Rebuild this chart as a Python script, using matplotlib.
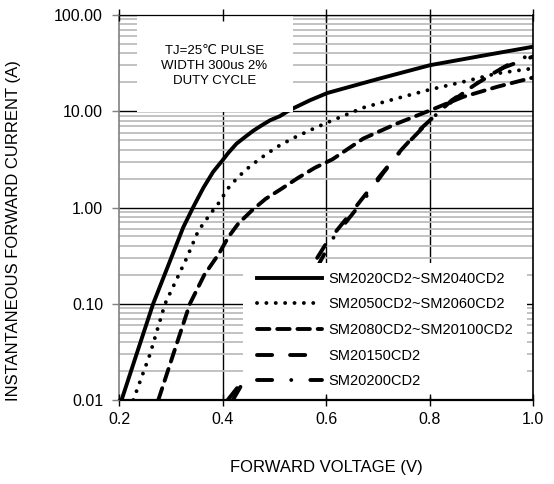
import matplotlib
matplotlib.use('Agg')
import matplotlib.pyplot as plt
from matplotlib.patches import Rectangle
from matplotlib.ticker import LogLocator, NullFormatter, FuncFormatter

plt.rcParams['font.family'] = ['Liberation Sans', 'DejaVu Sans']

# values (V, A)
labels = ['SM2020CD2~SM2040CD2', 'SM2050CD2~SM2060CD2', 'SM2080CD2~SM20100CD2',
          'SM20150CD2', 'SM20200CD2']

v_2040 = [0.205, 0.234, 0.266, 0.303, 0.324, 0.343, 0.363, 0.382, 0.40, 0.411, 0.427,
          0.4435, 0.46, 0.476, 0.492, 0.511, 0.53, 0.569, 0.603, 0.704, 0.801, 0.898, 1.00]
i_2040 = [0.01, 0.03, 0.1, 0.32, 0.62, 1.0, 1.6, 2.35, 3.09, 3.68, 4.6,
          5.4, 6.3, 7.15, 8.06, 8.9, 10.3, 13.0, 15.5, 21.9, 30.1, 37.4, 46.8]

v_2060 = [0.2276, 0.26, 0.289, 0.331, 0.353, 0.3745, 0.392, 0.4145, 0.4435, 0.4725,
          0.505, 0.537, 0.569, 0.604, 0.672, 0.737, 0.801, 0.865, 0.93, 1.00]
i_2060 = [0.01, 0.03, 0.1, 0.30, 0.57, 0.83, 1.1, 1.69, 2.43, 3.22,
          4.25, 5.27, 6.34, 7.7, 10.9, 13.6, 16.8, 20.2, 24.7, 27.9]

v_20100 = [0.276, 0.305, 0.337, 0.365, 0.393, 0.411, 0.4305, 0.4576, 0.4834, 0.5144,
           0.5465, 0.5787, 0.6122, 0.672, 0.737, 0.801, 0.865, 0.93, 1.00]
i_20100 = [0.01, 0.03, 0.1, 0.2, 0.33, 0.49, 0.68, 0.94, 1.23, 1.57,
           2.04, 2.59, 3.16, 5.2, 7.45, 10.2, 14.1, 17.9, 22.4]

v_20150 = [0.42, 0.45, 0.48, 0.52, 0.56, 0.60, 0.652, 0.705, 0.746, 0.782, 0.82,
           0.843, 0.894, 0.943, 1.00]
i_20150 = [0.01, 0.019, 0.035, 0.08, 0.19, 0.42, 0.93, 2.15, 4.0, 6.5, 10.0,
           13.0, 19.8, 28.4, 37.0]

v_20200 = [0.41, 0.44, 0.48, 0.52, 0.56, 0.611, 0.675, 0.711, 0.75, 0.804, 0.85,
           0.90, 0.95, 1.00]
i_20200 = [0.01, 0.016, 0.03, 0.065, 0.14, 0.46, 1.24, 2.3, 4.2, 8.4, 13.5,
           21.0, 30.0, 39.8]

x_ticks = [0.2, 0.4, 0.6, 0.8, 1.0]
y_ticks = [0.01, 0.1, 1, 10, 100]

note = 'TJ=25\u2103 PULSE\nWIDTH 300us 2%\nDUTY CYCLE'

fig = plt.figure(figsize=(5.54, 4.84), dpi=100)
pos = [119 / 554, 84 / 484, 414 / 554, 385 / 484]
ax = fig.add_axes(pos)
ax.set_yscale('log')
ax.set_xlim(0.2, 1.0)
ax.set_ylim(0.01, 100)
ax.set_xticks(x_ticks)
ax.set_yticks(y_ticks)
ax.yaxis.set_minor_locator(LogLocator(base=10, subs=range(2, 10)))
ax.yaxis.set_minor_formatter(NullFormatter())
ax.yaxis.set_major_formatter(FuncFormatter(lambda v, p: f'{v:.2f}'))
ax.xaxis.set_major_formatter(FuncFormatter(lambda v, p: f'{v:.1f}'))

ax.set_axisbelow(True)
ax.grid(True, which='minor', axis='y', color='#bdbdbd', lw=1.3)
ax.grid(True, which='major', color='black', lw=1.0)
gl = ax.xaxis.get_gridlines()
gl[0].set_visible(False)
gl[-1].set_visible(False)
ax.tick_params(which='both', length=0)
ax.tick_params(axis='y', labelsize=11.5, pad=11.5)
ax.tick_params(axis='x', labelsize=11.5, pad=9)

lw = 2.8
ax.plot(v_2040, i_2040, color='black', lw=lw, label=labels[0])
ax.plot(v_2060, i_2060, color='black', lw=lw, ls=(0, (0.01, 2.4)),
        dash_capstyle='round', label=labels[1])
ax.plot(v_20100, i_20100, color='black', lw=lw, ls=(0, (3.2, 2.0)),
        dash_capstyle='round', label=labels[2])
ax.plot(v_20150, i_20150, color='black', lw=lw, ls=(0, (3.9, 4.6)),
        dash_capstyle='round', label=labels[3])
ax.plot(v_20200, i_20200, color='black', lw=lw, ls=(0, (3.9, 4.9, 0.01, 4.9)),
        dash_capstyle='round', label=labels[4])

# white panels behind the note and the legend
ax.add_patch(Rectangle((0.0435, 0.748), 0.3765, 0.25, transform=ax.transAxes,
                       facecolor='white', edgecolor='none', zorder=3))
ax.add_patch(Rectangle((0.2995, 0.008), 0.686, 0.348, transform=ax.transAxes,
                       facecolor='white', edgecolor='none', zorder=3))

ax.text(0.2307, 0.8675, note, transform=ax.transAxes, ha='center', va='center',
        fontsize=9.5, linespacing=1.3, zorder=6)

ax.legend(loc='upper left', bbox_to_anchor=(0.3333, 0.333), frameon=False,
          borderaxespad=0, borderpad=0, handlelength=4.46, handletextpad=0.41,
          labelspacing=0.8, fontsize=10.5)

for name, s in ax.spines.items():
    s.set_zorder(4)
ax.spines['left'].set_color('#808080')
ax.spines['left'].set_linewidth(1.2)
ax.spines['bottom'].set_linewidth(1.6)
ax.spines['top'].set_linewidth(0.9)
ax.spines['right'].set_linewidth(1.2)

ax.set_xlabel('FORWARD VOLTAGE (V)', fontsize=12)
ax.xaxis.set_label_coords(0.5, -0.155)
ax.set_ylabel('INSTANTANEOUS FORWARD CURRENT (A)', fontsize=12)
ax.yaxis.set_label_coords(-0.237, 0.44)

# tick marks drawn on top of the white panels
ax2 = fig.add_axes(pos, sharex=ax, sharey=ax)
ax2.patch.set_visible(False)
for s in ax2.spines.values():
    s.set_visible(False)
ax2.tick_params(which='minor', length=0)
ax2.tick_params(axis='x', which='major', direction='inout', length=9, width=1,
                color='black', top=True, labelbottom=False)
ax2.tick_params(axis='y', which='major', direction='out', length=5, width=1,
                color='#808080', labelleft=False)

fig.savefig('out.png', dpi=100)
